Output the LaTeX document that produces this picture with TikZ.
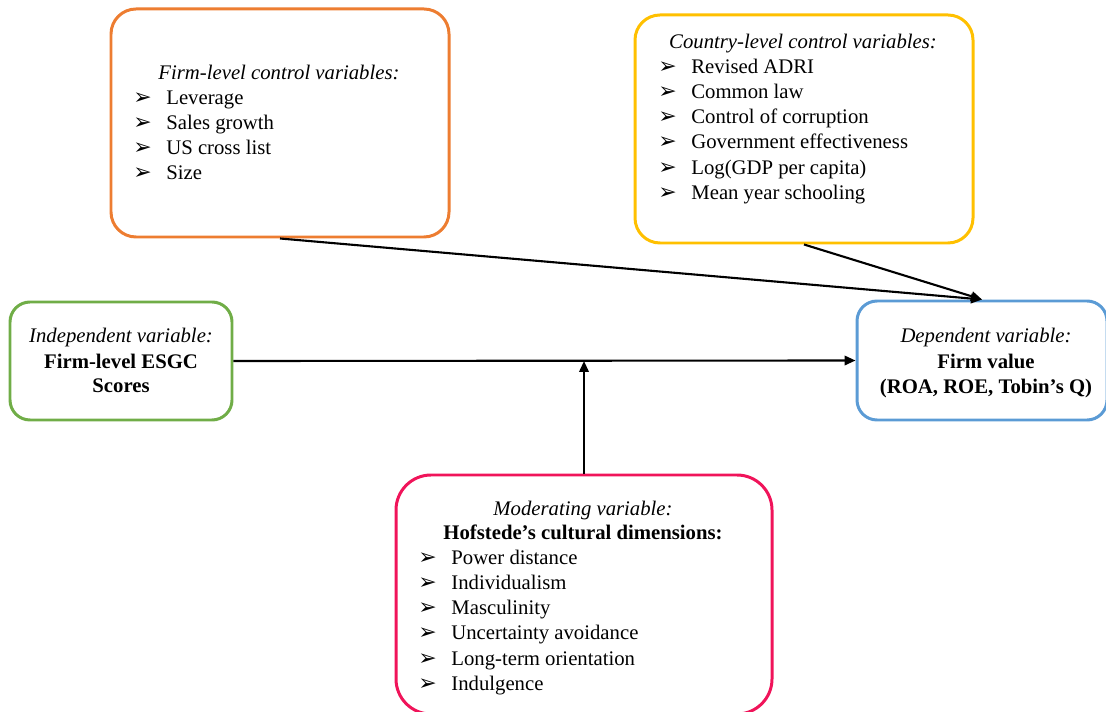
\documentclass[tikz,border=0pt]{standalone}
\usepackage{fontspec}
\setmainfont{Liberation Serif}
\newfontfamily\dingfont{DejaVu Sans}
\usepackage{xcolor}
\usetikzlibrary{positioning, arrows.meta, calc}

\definecolor{boxorange}{HTML}{ED7D31}
\definecolor{boxyellow}{HTML}{FFC000}
\definecolor{boxgreen}{HTML}{70AD47}
\definecolor{boxblue}{HTML}{5B9BD5}
\definecolor{boxpink}{HTML}{F0145A}

\newcommand{\bullt}{\makebox[0.66cm][l]{\dingfont\fontsize{12.5}{13}\selectfont ➢}}

\begin{document}
\begin{tikzpicture}[
    varbox/.style={rectangle, draw=#1, line width=1.7pt, rounded corners=0.5cm, inner sep=0pt},
    txt/.style={font=\fontsize{11.8}{13.5}\selectfont, inner sep=0pt, anchor=base},
    item/.style={font=\fontsize{11.8}{13.5}\selectfont, inner sep=0pt, anchor=base west},
    arr/.style={-{Triangle[length=2.2mm, width=1.9mm]}, line width=1.2pt},
]
\useasboundingbox (0,0) rectangle (22.12,-14.24);
\clip (0,0) rectangle (22.12,-14.24);

% boxes
\node[varbox=boxorange, minimum width=6.76cm, minimum height=4.56cm] (firm) at (5.6,-2.46) {};
\node[varbox=boxyellow, minimum width=6.76cm, minimum height=4.56cm] (country) at (16.08,-2.58) {};
\node[varbox=boxgreen, rounded corners=0.4cm, minimum width=4.44cm, minimum height=2.36cm] (indep) at (2.42,-7.22) {};
\node[varbox=boxblue, rounded corners=0.4cm, minimum width=5.0cm, minimum height=2.38cm] (dep) at (19.64,-7.21) {};
\node[varbox=boxpink, rounded corners=0.7cm, minimum width=7.52cm, minimum height=4.78cm] (mod) at (11.68,-11.89) {};

% firm-level controls
\node[txt] (firmtitle) at (5.58,-1.60) {\itshape Firm-level control variables:};
\foreach \t [count=\i] in {Leverage, Sales growth, US cross list, Size}
    \node[item] (firm\i) at (2.66,-1.60-0.5*\i) {\bullt\t};

% country-level controls
\node[txt] (countrytitle) at (16.06,-0.98) {\itshape Country-level control variables:};
\foreach \t [count=\i] in {Revised ADRI, Common law, Control of corruption, Government effectiveness, Log(GDP per capita), Mean year schooling}
    \node[item] (country\i) at (13.16,-0.96-0.505*\i) {\bullt\t};

% independent / dependent
\node[txt] (indep1) at (2.42,-6.86) {\itshape Independent variable:};
\node[txt] (indep2) at (2.42,-7.36) {\bfseries Firm-level ESGC};
\node[txt] (indep3) at (2.42,-7.84) {\bfseries Scores};

\node[txt] (dep1) at (19.72,-6.86) {\itshape Dependent variable:};
\node[txt] (dep2) at (19.72,-7.36) {\bfseries Firm value};
\node[txt] (dep3) at (19.72,-7.86) {\bfseries (ROA, ROE, Tobin’s Q)};

% moderator
\node[txt] (modtitle) at (11.66,-10.30) {\itshape Moderating variable:};
\node[txt] (modhead) at (11.66,-10.78) {\bfseries Hofstede’s cultural dimensions:};
\foreach \t [count=\i] in {Power distance, Individualism, Masculinity, Uncertainty avoidance, Long-term orientation, Indulgence}
    \node[item] (mod\i) at (8.36,-10.775-0.505*\i) {\bullt\t};

% connectors
\coordinate (join) at (mod.north |- indep.east);
\draw[arr] (indep.east) -- (dep.west);
\draw[arr] (mod.north) -- (join);
\draw[arr] (firm.south) -- (dep.north);
\draw[arr] (country.south) -- (dep.north);

\end{tikzpicture}
\end{document}
